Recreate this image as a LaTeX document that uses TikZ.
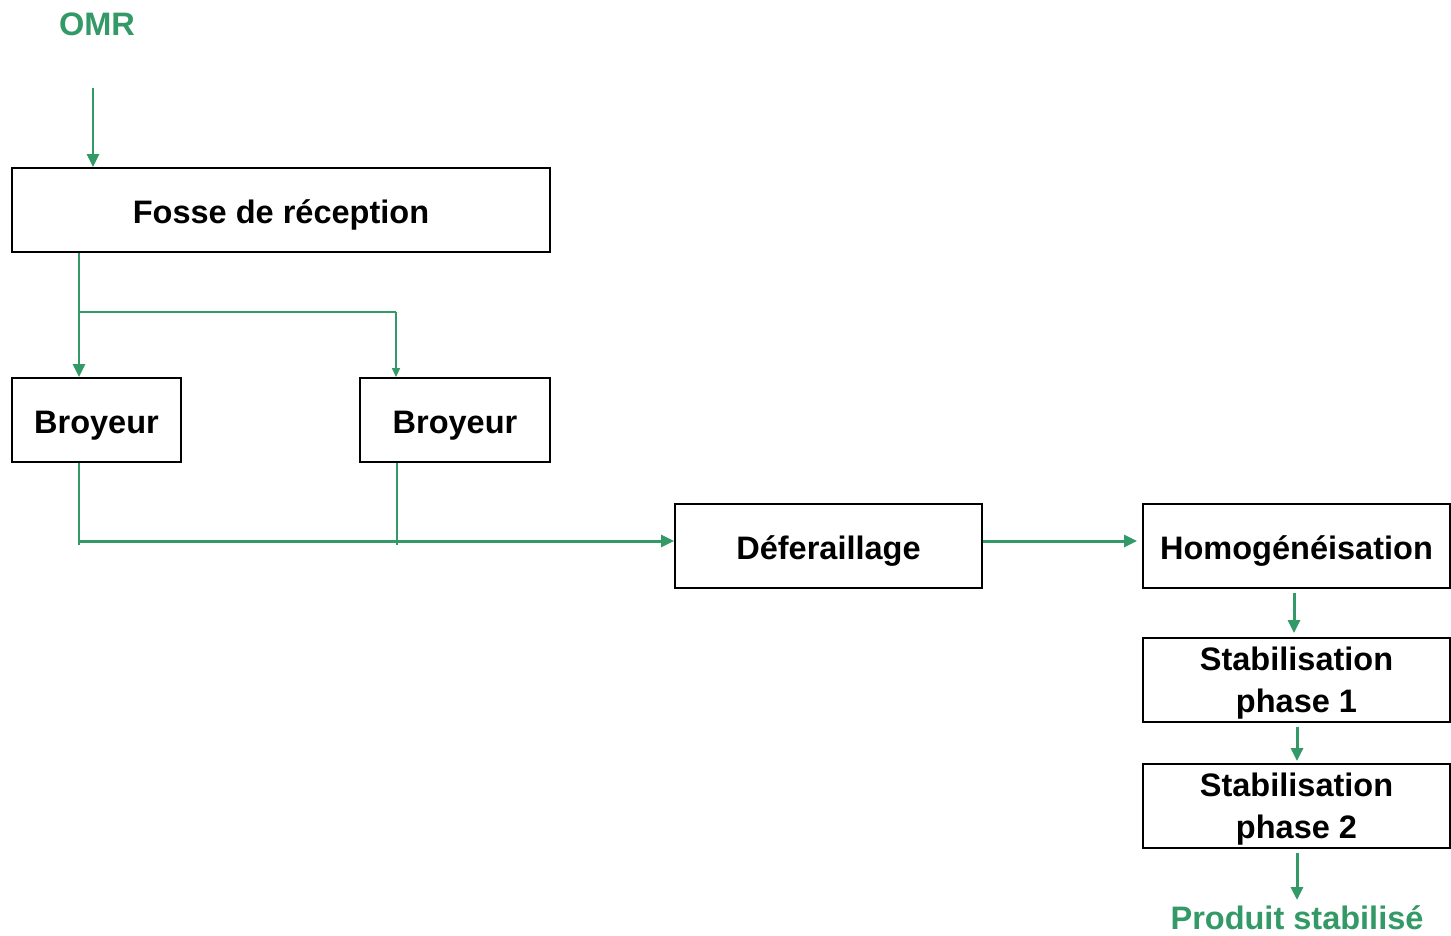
\documentclass[tikz,border=0pt]{standalone}
\usepackage{fontspec}
\setmainfont{Liberation Sans}
\usetikzlibrary{arrows.meta}
\definecolor{flowgreen}{RGB}{51,153,102}

\begin{document}
\begin{tikzpicture}[
	box/.style={draw, line width=1.1pt, inner sep=0pt, align=center,
		font=\fontsize{18.5}{24}\selectfont\bfseries},
	onebox/.style={box, text height=15pt, text depth=0pt},
	twobox/.style={box, text depth=0pt},
	label/.style={text=flowgreen, inner sep=0pt, font=\fontsize{18.5}{24}\selectfont\bfseries},
	flow/.style={draw=flowgreen, line width=1.7pt, -{Triangle[length=0.26cm, width=0.24cm]}},
	thinflow/.style={draw=flowgreen, line width=0.9pt, -{Triangle[length=0.18cm, width=0.16cm]}},
	thinline/.style={draw=flowgreen, line width=0.7pt}
	]
		\useasboundingbox (0,0) rectangle (29.02,-18.7);
		
		\node[label] at (1.94,-0.48) (omr) {OMR};
		\node[onebox, minimum width=10.76cm, minimum height=1.68cm] at (5.62,-4.2) (fosse) {Fosse de réception};
		\node[onebox, minimum width=3.38cm, minimum height=1.68cm] at (1.93,-8.4) (broy1) {Broyeur};
		\node[onebox, minimum width=3.8cm, minimum height=1.68cm] at (9.1,-8.4) (broy2) {Broyeur};
		\node[onebox, minimum width=6.14cm, minimum height=1.68cm] at (16.57,-10.92) (defer) {Déferaillage};
		\node[onebox, minimum width=6.14cm, minimum height=1.68cm] at (25.93,-10.92) (homog) {Homogénéisation};
		\node[twobox, minimum width=6.14cm, minimum height=1.68cm] at (25.93,-13.6) (stab1) {Stabilisation\\phase 1};
		\node[twobox, minimum width=6.14cm, minimum height=1.68cm] at (25.93,-16.12) (stab2) {Stabilisation\\phase 2};
		\node[label] at (25.94,-18.36) (prod) {Produit stabilisé};
		
		\coordinate (omrin) at (1.86,-1.76);
		\coordinate (split) at (1.58,-6.24);
		\coordinate (splitr) at (7.92,-6.24);
		\coordinate (join1) at (1.58,-10.82);
		\coordinate (join2) at (7.94,-10.82);
		\coordinate (homx) at (25.88,0);
		\coordinate (stabx) at (25.94,0);
		
		\draw[flow] (omrin) -- (omrin |- fosse.north);
		\draw[flow] (split |- fosse.south) -- (split |- broy1.north);
		\draw[thinline] (split) -- (splitr);
		\draw[thinflow] (splitr) -- (splitr |- broy2.north);
		
		\draw[thinline] (join1 |- broy1.south) -- ([yshift=-0.08cm]join1);
		\draw[thinline] (join2 |- broy2.south) -- ([yshift=-0.08cm]join2);
		\draw[flow] (join1) -- (join1 -| defer.west);
		\draw[flow, shorten >=0.1cm] (defer.east |- join1) -- (homog.west |- join1);
		
		\draw[flow, shorten <=0.08cm, shorten >=0.08cm] (homx |- homog.south) -- (homx |- stab1.north);
		\draw[flow, shorten <=0.08cm, shorten >=0.04cm] (stabx |- stab1.south) -- (stabx |- stab2.north);
		\draw[flow, shorten <=0.08cm] (stabx |- stab2.south) -- (stabx |- 0,-18.0);
	\end{tikzpicture}
\end{document}
